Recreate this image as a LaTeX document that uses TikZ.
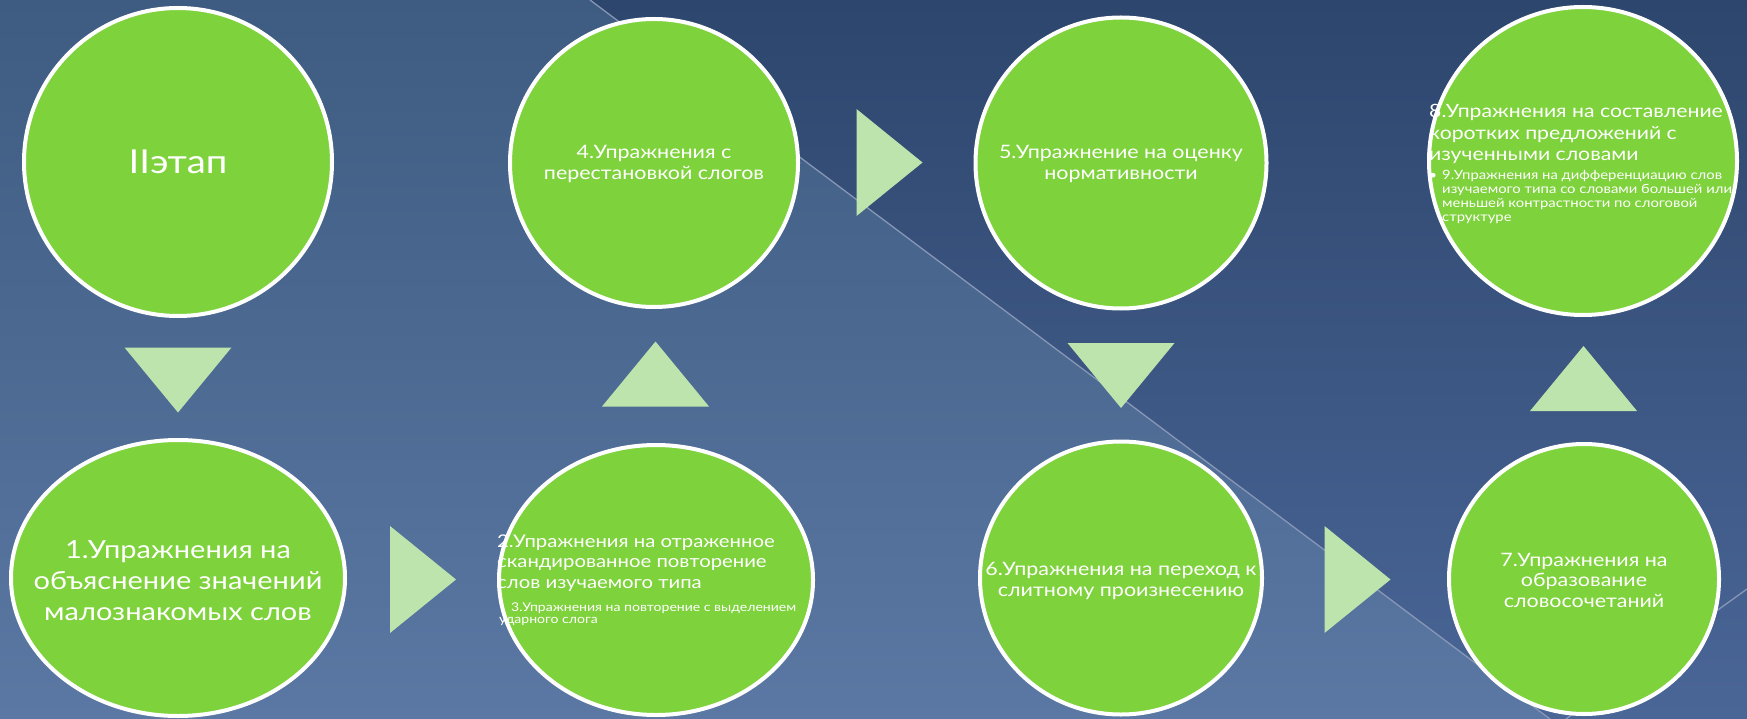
\documentclass[tikz,border=0pt]{standalone}
\usepackage{fontspec}
\setmainfont{Lato}[FakeStretch=1.16]
\usetikzlibrary{shapes.geometric}
\definecolor{bgLtop}{HTML}{3E5B81}
\definecolor{bgLbot}{HTML}{5B78A4}
\definecolor{bgRtop}{HTML}{2D466D}
\definecolor{bgRbot}{HTML}{4A6697}
\definecolor{leaf}{HTML}{7ED23C}
\definecolor{pale}{HTML}{BDE4AD}
\definecolor{streak}{HTML}{8797B5}
\newcommand\tridown[1]{\fill[pale] ([shift={(-53.5,-32.5)}]#1) -- ([shift={(53.5,-32.5)}]#1) -- ([shift={(0,32.5)}]#1) -- cycle;}
\newcommand\triup[1]{\fill[pale] ([shift={(-53.5,32.5)}]#1) -- ([shift={(53.5,32.5)}]#1) -- ([shift={(0,-32.5)}]#1) -- cycle;}
\newcommand\triright[1]{\fill[pale] ([shift={(-33,-53.5)}]#1) -- ([shift={(-33,53.5)}]#1) -- ([shift={(33,0)}]#1) -- cycle;}
\begin{document}
\begin{tikzpicture}[x=1pt,y=-1pt,
  disc/.style={circle,fill=leaf,draw=white,line width=4pt,inner sep=0pt,outer sep=0pt},
  oval/.style={ellipse,fill=leaf,draw=white,line width=4pt,inner sep=0pt,outer sep=0pt},
  txt/.style={text=white,inner sep=0pt,align=center},
  ltxt/.style={text=white,inner sep=0pt,align=left,anchor=west},
  fmid/.style={font=\fontsize{18.5}{20.5}\selectfont},
]
\useasboundingbox (0,0) rectangle (1747,719);
% background
\shade[top color=bgLtop,bottom color=bgLbot] (0,0) -- (590,0) -- (1550,719) -- (0,719) -- cycle;
\shade[top color=bgRtop,bottom color=bgRbot] (590,0) -- (1747,0) -- (1747,719) -- (1550,719) -- cycle;
\coordinate (s1) at (590,0);
\coordinate (s2) at (1550,719);
\coordinate (s3) at (1747,589);
\coordinate (s4) at (1566,719);
\draw[streak,line width=1.3pt] (s1) -- (s2);
\draw[streak,line width=1.3pt] (s3) -- (s4);
% triangles
\coordinate (t1) at (178,380);
\coordinate (t2) at (423,579.5);
\coordinate (t3) at (655.5,374);
\coordinate (t4) at (889.5,162.5);
\coordinate (t5) at (1121,375.5);
\coordinate (t6) at (1357.5,579.5);
\coordinate (t7) at (1583.5,378.5);
\tridown{t1}
\triright{t2}
\triup{t3}
\triright{t4}
\tridown{t5}
\triright{t6}
\triup{t7}
% shapes
\node[disc,minimum size=308pt] (c0) at (178,162) {};
\node[disc,minimum size=288pt] (c4) at (654,163) {};
\node[disc,minimum size=291pt] (c5) at (1121,163) {};
\node[disc,minimum size=308pt] (c8) at (1583,161) {};
\node[oval,minimum width=334pt,minimum height=276pt] (c1) at (178,578) {};
\node[oval,minimum width=314pt,minimum height=270pt] (c2) at (656,580) {};
\node[oval,minimum width=282pt,minimum height=273pt] (c6) at (1121,578) {};
\node[disc,minimum size=270pt] (c7) at (1584,579) {};
% texts
\node[txt,font=\fontsize{33}{40}\selectfont] (l0) at (c0) {IIэтап};
\node[txt,font=\fontsize{25}{31}\selectfont] (l1) at (178,581) {1.Упражнения на\\объяснение значений\\малознакомых слов};
\node[txt,fmid] (l4) at (654,164) {4.Упражнения с\\перестановкой слогов};
\node[txt,fmid] (l5) at (1121,164) {5.Упражнение на оценку\\нормативности};
\node[txt,fmid] (l6) at (1121,581) {6.Упражнения на переход к\\слитному произнесению};
\node[txt,fmid] (l7) at (1584,580) {7.Упражнения на\\образование\\словосочетаний};
\node[ltxt,font=\fontsize{17.5}{20.5}\selectfont] (l2) at (497,563) {2.Упражнения на отраженное\\скандированное повторение\\слов изучаемого типа};
\node[ltxt,font=\fontsize{12.1}{12.5}\selectfont] (l3) at (499,614) {\hspace{12pt}3.Упражнения на повторение с выделением\\ударного слога};
\node[ltxt,font=\fontsize{18.3}{21.5}\selectfont] (l8) at (1429,134) {8.Упражнения на составление\\коротких предложений с\\изученными словами};
\node[ltxt,font=\fontsize{12.8}{14.3}\selectfont] (l9) at (1442,197) {\llap{•\hspace{5pt}}9.Упражнения на дифференциацию слов\\изучаемого типа со словами большей или\\меньшей контрастности по слоговой\\структуре};
\end{tikzpicture}
\end{document}
